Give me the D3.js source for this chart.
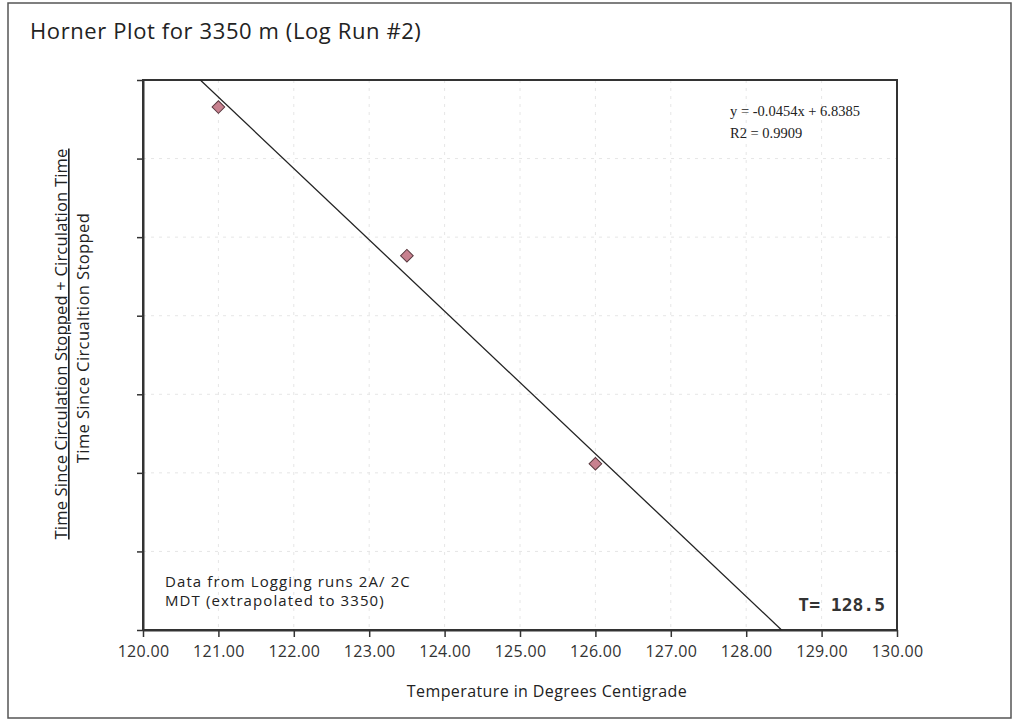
<!DOCTYPE html>
<html>
<head>
<meta charset="utf-8">
<script src="https://cdn.jsdelivr.net/npm/d3@7"></script>
<style>
  html, body { margin: 0; padding: 0; background: #fff; }
  svg { display: block; }
</style>
</head>
<body>
<svg id="chart" width="1024" height="724"></svg>
<script>
// Horner plot data: temperature readings vs. Horner time ratio
const temperatures = [121.0, 123.5, 126.0];
const hornerRatios = [1.3388, 1.2442, 1.1118];

// Linear trendline fitted to the points
const trendSlope = -0.0454;
const trendIntercept = 6.8385;

const xTickValues = [120, 121, 122, 123, 124, 125, 126, 127, 128, 129, 130];
const xDomain = [120, 130];
const yDomain = [1.006, 1.356];
const yTickCount = 7;

const titleText = "Horner Plot for 3350 m (Log Run #2)";
const yLabelTop = "Time Since Circulation Stopped + Circulation Time";
const yLabelBottom = "Time Since Circualtion Stopped";
const xLabel = "Temperature in Degrees Centigrade";
const noteLines = ["Data from Logging runs 2A/ 2C", "MDT (extrapolated to 3350)"];
const equationLines = ["y = -0.0454x + 6.8385", "R2 = 0.9909"];
const resultText = "T= 128.5";

const svg = d3.select("#chart");
const plot = { left: 143, top: 80, right: 897, bottom: 630 };
const sans = "'Open Sans', sans-serif";

const x = d3.scaleLinear().domain(xDomain).range([plot.left, plot.right]);
const y = d3.scaleLinear().domain(yDomain).range([plot.bottom, plot.top]);

// outer frame
svg.append("rect")
  .attr("x", 8).attr("y", 3).attr("width", 1003).attr("height", 715)
  .attr("fill", "none").attr("stroke", "#555").attr("stroke-width", 1.5);

// title
svg.append("text")
  .attr("x", 30).attr("y", 39)
  .attr("font-family", sans)
  .attr("font-size", 22)
  .attr("letter-spacing", 0.6)
  .attr("fill", "#222")
  .text(titleText);

// gridlines
const yGridVals = d3.range(yTickCount + 1).map(i => yDomain[0] + i * (yDomain[1] - yDomain[0]) / yTickCount);
const grid = svg.append("g").attr("stroke", "#e6e6e6").attr("stroke-width", 1).attr("stroke-dasharray", "3,5");
grid.selectAll("line.v").data(xTickValues.slice(1, -1)).enter().append("line")
  .attr("x1", d => x(d)).attr("x2", d => x(d))
  .attr("y1", plot.top).attr("y2", plot.bottom);
grid.selectAll("line.h").data(yGridVals.slice(1, -1)).enter().append("line")
  .attr("x1", plot.left).attr("x2", plot.right)
  .attr("y1", d => y(d)).attr("y2", d => y(d));

// plot border
svg.append("rect")
  .attr("x", plot.left).attr("y", plot.top)
  .attr("width", plot.right - plot.left).attr("height", plot.bottom - plot.top)
  .attr("fill", "none").attr("stroke", "#333").attr("stroke-width", 2);

// x axis
const xAxis = d3.axisBottom(x).tickValues(xTickValues).tickFormat(d3.format(".2f")).tickSize(7).tickSizeOuter(0);
const gx = svg.append("g").attr("transform", `translate(0,${plot.bottom})`).call(xAxis);
gx.select(".domain").attr("stroke", "#333").attr("stroke-width", 2);
gx.selectAll(".tick line").attr("stroke", "#333").attr("stroke-width", 1.5);
gx.selectAll(".tick text")
  .attr("font-family", sans)
  .attr("font-size", 16)
  .attr("letter-spacing", 0.3)
  .attr("fill", "#333")
  .attr("dy", "1.05em");

// y axis (unlabelled ticks)
const yAxis = d3.axisLeft(y).tickValues(yGridVals).tickFormat("").tickSize(6).tickSizeOuter(0);
const gy = svg.append("g").attr("transform", `translate(${plot.left},0)`).call(yAxis);
gy.select(".domain").attr("stroke", "#333").attr("stroke-width", 2);
gy.selectAll(".tick line").attr("stroke", "#333").attr("stroke-width", 1.5);

// clip for the trendline
svg.append("clipPath").attr("id", "plotClip")
  .append("rect").attr("x", plot.left).attr("y", plot.top)
  .attr("width", plot.right - plot.left).attr("height", plot.bottom - plot.top);

const trendX = [xDomain[0], xDomain[1]];
svg.append("path")
  .attr("clip-path", "url(#plotClip)")
  .attr("d", d3.line().x(d => x(d)).y(d => y(trendSlope * d + trendIntercept))(trendX))
  .attr("fill", "none").attr("stroke", "#222").attr("stroke-width", 1.3);

// data points as diamonds
const points = temperatures.map((t, i) => ({ t, r: hornerRatios[i] }));
svg.append("g").selectAll("path").data(points).enter().append("path")
  .attr("transform", d => `translate(${x(d.t)},${y(d.r)}) rotate(45)`)
  .attr("d", d3.symbol().type(d3.symbolSquare).size(80))
  .attr("fill", "#c8818f").attr("stroke", "#5a3a40").attr("stroke-width", 1);

// y axis label (fraction form)
svg.append("text")
  .attr("transform", "translate(67,344) rotate(-90)")
  .attr("text-anchor", "middle")
  .attr("font-family", sans)
  .attr("font-size", 16.5)
  .attr("letter-spacing", 0.2)
  .attr("fill", "#222")
  .attr("text-decoration", "underline")
  .text(yLabelTop);
svg.append("text")
  .attr("transform", "translate(89,338) rotate(-90)")
  .attr("text-anchor", "middle")
  .attr("font-family", sans)
  .attr("font-size", 16.5)
  .attr("letter-spacing", 0.4)
  .attr("fill", "#222")
  .text(yLabelBottom);

// x axis title
svg.append("text")
  .attr("x", 547).attr("y", 697)
  .attr("text-anchor", "middle")
  .attr("font-family", sans)
  .attr("font-size", 16)
  .attr("letter-spacing", 0.4)
  .attr("fill", "#222")
  .text(xLabel);

// source note
svg.append("g").selectAll("text").data(noteLines).enter().append("text")
  .attr("x", 165).attr("y", (d, i) => 587 + i * 19)
  .attr("font-family", sans)
  .attr("font-size", 15)
  .attr("letter-spacing", 1.1)
  .attr("fill", "#222")
  .text(d => d);

// trendline equation
svg.append("g").selectAll("text").data(equationLines).enter().append("text")
  .attr("x", 730).attr("y", (d, i) => 116 + i * 22)
  .attr("font-family", "'Liberation Serif', serif")
  .attr("font-size", 14.5)
  .attr("fill", "#222")
  .text(d => d);

// extrapolated temperature
svg.append("text")
  .attr("x", 885).attr("y", 611)
  .attr("text-anchor", "end")
  .attr("font-family", "'DejaVu Sans Mono', monospace")
  .attr("font-weight", "bold")
  .attr("font-size", 18)
  .attr("fill", "#333")
  .text(resultText);
</script>
</body>
</html>
